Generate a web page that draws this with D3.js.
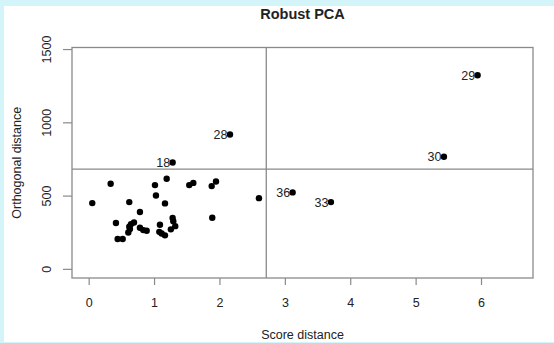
<!DOCTYPE html>
<html><head><meta charset="utf-8">
<script src="https://cdn.jsdelivr.net/npm/d3@7"></script>
<style>
html,body{margin:0;padding:0;background:#d3f5fa;}
svg{display:block;}
</style></head>
<body>
<script>
const title = "Robust PCA";
const xLabel = "Score distance";
const yLabel = "Orthogonal distance";
const xTicks = [0,1,2,3,4,5,6];
const yTicks = [0,500,1000,1500];
const scoreDist = [0.055,0.336,0.621,0.784,0.417,1.014,1.029,1.193,1.167,1.538,1.600,1.881,1.947,1.890,2.604,
  0.443,0.520,0.606,0.621,0.647,0.693,0.631,0.784,0.835,0.887,1.090,1.080,1.116,1.167,1.284,1.294,1.324,1.257,
  1.284,2.161,3.119,3.705,5.433,5.948];
const orthDist = [452,584,459,391,316,575,504,618,450,575,590,568,600,352,486,
  207,207,252,291,309,320,275,284,268,263,304,256,245,232,350,329,295,273,
  729,920,525,459,768,1325];
const pointLabels = ["","","","","","","","","","","","","","","",
  "","","","","","","","","","","","","","","","","","",
  "18","28","36","33","30","29"];
const cutoffScore = 2.716;
const cutoffOrth = 684;

const W=554,H=343;
const svg=d3.select("body").append("svg").attr("width",W).attr("height",H);
svg.append("rect").attr("x",4).attr("y",6).attr("width",W-4).attr("height",336).attr("fill","#ffffff");

const L=72,R=533,T=47.5,B=278;
const x=d3.scaleLinear().domain([-0.255,6.795]).range([L,R]);
const y=d3.scaleLinear().domain([-59,1514]).range([B,T]);
const grey="#8a8a8a", txt="#222";
const font="Liberation Sans, Arial, Helvetica, sans-serif";

// cutoff lines
svg.append("line").attr("x1",x(cutoffScore)).attr("x2",x(cutoffScore)).attr("y1",T).attr("y2",B)
  .attr("stroke",grey).attr("stroke-width",1.3);
svg.append("line").attr("x1",L).attr("x2",R).attr("y1",y(cutoffOrth)).attr("y2",y(cutoffOrth))
  .attr("stroke",grey).attr("stroke-width",1.3);

// box
svg.append("rect").attr("x",L).attr("y",T).attr("width",R-L).attr("height",B-T)
  .attr("fill","none").attr("stroke",grey).attr("stroke-width",1.3);

// axes
const xa=svg.append("g").attr("transform",`translate(0,${B})`)
  .call(d3.axisBottom(x).tickValues(xTicks).tickSize(7).tickPadding(13).tickFormat(d3.format("d")));
xa.select(".domain").remove();
xa.selectAll("line").attr("stroke",grey).attr("stroke-width",1.2);
xa.selectAll("text").attr("font-family",font).attr("font-size",12.5).attr("fill",txt);

const ya=svg.append("g").attr("transform",`translate(${L},0)`)
  .call(d3.axisLeft(y).tickValues(yTicks).tickSize(9).tickFormat(d3.format("d")));
ya.select(".domain").remove();
ya.selectAll("line").attr("stroke",grey).attr("stroke-width",1.2);
ya.selectAll("text").attr("font-family",font).attr("font-size",12.5).attr("fill",txt)
  .attr("x",null).attr("dy",null)
  .attr("text-anchor","middle")
  .attr("transform",d=>`translate(-25,${y(d)}) rotate(-90)`).attr("y",0)
  .attr("dy","0.35em");
ya.selectAll(".tick").attr("transform",d=>`translate(0,0)`);
ya.selectAll(".tick line").attr("y1",d=>y(d)).attr("y2",d=>y(d)).attr("x2",-9);

// points
const data=scoreDist.map((d,i)=>({sd:d,od:orthDist[i],lab:pointLabels[i]}));
svg.append("g").selectAll("circle").data(data).enter().append("circle")
  .attr("cx",d=>x(d.sd)).attr("cy",d=>y(d.od)).attr("r",3.2).attr("fill","#000");
svg.append("g").selectAll("text").data(data.filter(d=>d.lab)).enter().append("text")
  .attr("x",d=>x(d.sd)-2.5).attr("y",d=>y(d.od)).attr("dy","0.36em")
  .attr("text-anchor","end").attr("font-family",font).attr("font-size",12.5).attr("fill",txt)
  .text(d=>d.lab);

// titles
svg.append("text").attr("x",(L+R)/2).attr("y",19).attr("text-anchor","middle")
  .attr("font-family",font).attr("font-weight","bold").attr("font-size",14.5).attr("fill",txt).text(title);
svg.append("text").attr("x",(L+R)/2).attr("y",339).attr("text-anchor","middle")
  .attr("font-family",font).attr("font-size",12.5).attr("fill",txt).text(xLabel);
svg.append("text").attr("transform",`translate(21,${(T+B)/2}) rotate(-90)`).attr("text-anchor","middle")
  .attr("font-family",font).attr("font-size",12.5).attr("fill",txt).text(yLabel);
</script>
</body></html>
